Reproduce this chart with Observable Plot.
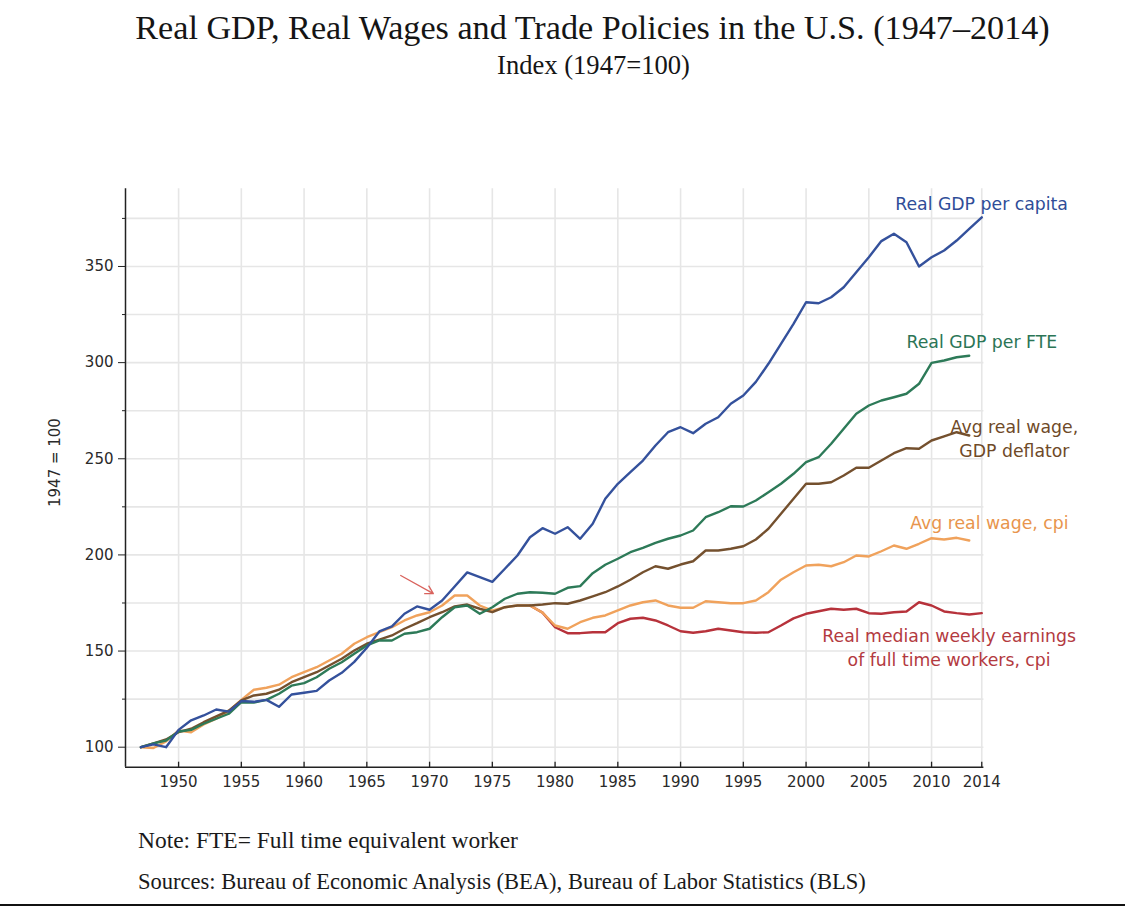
<!DOCTYPE html>
<html>
<head>
<meta charset="utf-8">
<script src="https://cdn.jsdelivr.net/npm/d3@7"></script>
<script src="https://cdn.jsdelivr.net/npm/@observablehq/plot@0.6"></script>
<style>
  html, body { margin: 0; padding: 0; background: #fff; }
  #page { position: relative; width: 1125px; height: 907px; overflow: hidden; background: #fff; }
  #chart { position: absolute; left: 0; top: 150px; }
  #deco { position: absolute; left: 0; top: 0; pointer-events: none; }
</style>
</head>
<body>
<div id="page">
  <div id="chart"></div>
  <svg id="deco" width="1125" height="907">
    <text id="title" x="592.5" y="39.3" text-anchor="middle" font-family="Liberation Serif" fill="#151515">Real GDP, Real Wages and Trade Policies in the U.S. (1947–2014)</text>
    <text id="subtitle" x="593.5" y="74" text-anchor="middle" font-family="Liberation Serif" fill="#151515">Index (1947=100)</text>
    <text id="note" x="138" y="848" font-family="Liberation Serif" fill="#1a1a1a">Note: FTE= Full time equivalent worker</text>
    <text id="sources" x="138" y="889" font-family="Liberation Serif" fill="#1a1a1a">Sources:  Bureau of Economic Analysis (BEA), Bureau of Labor Statistics (BLS)</text>
    <line x1="0" x2="1125" y1="905" y2="905" stroke="#111" stroke-width="2"></line>
  </svg>
</div>
<script>
// ---------- data ----------
const yearsMain = d3.range(1947, 2015);           // 1947..2014
const yearsWage = d3.range(1947, 2014);           // 1947..2013
const yearsMedian = d3.range(1978, 2015);         // 1978..2014

const gdpPerCapita = [100, 101.5, 100, 109, 114, 116.5, 119.6, 118.5, 124, 123.6,
  124.6, 121, 127.4, 128.3, 129.3, 134.7, 138.7, 144.4, 151.7, 160.2,
  162.8, 169.4, 173.2, 171.5, 176.3, 183.6, 190.9, 188.4, 186, 192.8,
  199.7, 209.2, 213.9, 211, 214.4, 208.4, 216.2, 229.2, 237, 243,
  249.1, 256.9, 263.8, 266.4, 263.3, 268.2, 271.6, 278.6, 282.9, 290,
  299.4, 309.8, 320.2, 331.4, 330.9, 334, 339.2, 347, 354.8, 363.2,
  367, 362.6, 350, 354.8, 358.3, 363.5, 369.6, 375.6];

const gdpPerFTE = [100, 102, 103.5, 108.2, 109, 112.2, 114.8, 117.4, 123.4, 123.2,
  124.6, 127.8, 132, 133.3, 136.4, 140.8, 144.2, 148.6, 152.9, 155.5,
  155.5, 159, 159.8, 161.6, 167.6, 172.8, 173.7, 169.4, 172.8, 177.2,
  179.8, 180.6, 180.3, 179.8, 182.9, 183.8, 190.5, 194.9, 198, 201.4,
  203.7, 206.3, 208.4, 210.1, 212.7, 219.6, 222.2, 225.3, 225.2, 228.3,
  232.6, 237, 242.2, 248.2, 250.8, 257.8, 265.6, 273.4, 277.7, 280.3,
  282, 283.8, 289, 299.9, 301.1, 302.8, 303.6];

const wageDeflator = [100, 102, 104, 107.8, 109.6, 113, 116, 119, 124.3, 126.9,
  127.8, 129.9, 133.8, 136.4, 139, 142.5, 146, 150.3, 153.8, 155.9,
  158.1, 161.6, 164.5, 167.6, 170.2, 173.2, 174.2, 172, 170.2, 172.8,
  173.7, 173.7, 174.2, 174.9, 174.6, 176.3, 178.4, 180.6, 183.6, 187.1,
  191, 194.1, 192.8, 195, 196.7, 202.3, 202.3, 203.2, 204.5, 208,
  213.6, 221.4, 229.2, 237, 237, 237.8, 241.3, 245.3, 245.3, 249.1,
  252.9, 255.5, 255.2, 259.5, 261.6, 263.8, 262.1];

const wageCpi = [100, 99.6, 103, 108.7, 107.8, 111.8, 114.8, 118.7, 124.6, 129.9,
  130.9, 132.5, 136.4, 139, 141.6, 145.1, 148.6, 153.8, 157.2, 159.8,
  162.4, 165.9, 168.5, 170.2, 173.7, 178.9, 178.9, 173.7, 171, 172.8,
  173.7, 173.7, 170, 163.3, 161.6, 165, 167.3, 168.5, 171.1, 173.7,
  175.4, 176.3, 173.7, 172.5, 172.5, 175.9, 175.4, 174.9, 174.9, 176.3,
  180.6, 187.1, 191, 194.5, 194.9, 194.1, 196.2, 199.7, 199.2, 201.9,
  204.9, 203.2, 205.8, 208.7, 208, 208.9, 207.5];

const medianWeekly = [173.7, 170, 162.4, 159.3, 159.3, 159.8, 159.8, 164.5, 166.8, 167.3,
  165.9, 163.3, 160.3, 159.5, 160.3, 161.6, 160.7, 159.8, 159.5, 159.8,
  163.3, 167, 169.4, 170.7, 172, 171.5, 172, 169.7, 169.4, 170.2,
  170.6, 175.4, 173.7, 170.6, 169.7, 169, 169.7];

const seriesNames = ["Real GDP per capita", "Real GDP per FTE", "Avg real wage,\nGDP deflator",
  "Avg real wage, cpi", "Real median weekly earnings\nof full time workers, cpi"];
const seriesColors = ["#34519c", "#2d7a58", "#74502e", "#f0a25c", "#b7323b"];
const labelColors = ["#2f4d98", "#2b7556", "#6f4a28", "#e8954d", "#b33a3f"];

const xTicks = [1950, 1955, 1960, 1965, 1970, 1975, 1980, 1985, 1990, 1995, 2000, 2005, 2010, 2014];
const yMajor = [100, 150, 200, 250, 300, 350];
const yMinor = [125, 175, 225, 275, 325, 375];
const yGrid = [100, 125, 150, 175, 200, 225, 250, 275, 300, 325, 350, 375];
const yTitle = ["1947 = 100"];

// annotation anchors (in data units)
const labelAnchors = [
  {x: 2007.1, y: 383.5, anchor: "start"},
  {x: 2008.0, y: 311.6, anchor: "start"},
  {x: 2016.6, y: 261.0, anchor: "middle"},
  {x: 2008.3, y: 217.5, anchor: "start"},
  {x: 2011.4, y: 152.3, anchor: "middle"}
];
const arrowData = [{x1: 1967.7, y1: 189.3, x2: 1970.3, y2: 179.9}];

// ---------- build tables ----------
const toRows = (years, vals) => years.map((yr, i) => ({year: yr, value: vals[i]}));
const allSeries = [
  toRows(yearsMain, gdpPerCapita),
  toRows(yearsWage, gdpPerFTE),
  toRows(yearsWage, wageDeflator),
  toRows(yearsWage, wageCpi),
  toRows(yearsMedian, medianWeekly)
];

const W = 1125, H = 660, mT = 38.3, mB = 43.3, mL = 125, mR = 141.6;
const frameH = H - mT - mB;
const xDom = [1945.77, 2014.17], yDom = [89.6, 390.4];
const axisColor = "#222";

const lineOrder = [4, 3, 2, 1, 0];
const marks = [
  Plot.gridX(xTicks, {stroke: "#e6e6e6", strokeOpacity: 1, strokeWidth: 1.6}),
  Plot.gridY(yGrid, {stroke: "#e6e6e6", strokeOpacity: 1, strokeWidth: 1.6}),
  Plot.axisY(yMajor, {tickSize: 7, tickPadding: 5, fontSize: 15, fill: "#2a2a2a", stroke: axisColor, label: null}),
  Plot.axisY(yMinor, {tickSize: 3, tickFormat: () => "", stroke: axisColor, label: null}),
  Plot.axisX(xTicks, {tickSize: 0, tickPadding: 9, fontSize: 15, fill: "#2a2a2a", tickFormat: d => String(d), label: null}),
  Plot.tickX(xTicks, {x: d => d, insetTop: frameH - 5, insetBottom: -1, stroke: axisColor, strokeWidth: 1.3}),
  Plot.ruleX([xDom[0]], {stroke: axisColor, strokeWidth: 1.5}),
  Plot.ruleY([yDom[0]], {stroke: axisColor, strokeWidth: 1.5}),
  Plot.text(yTitle, {text: d => d, frameAnchor: "left", rotate: -90, dx: -70, dy: 29, fontSize: 15, fill: "#2a2a2a"}),
  ...lineOrder.map(i => Plot.line(allSeries[i], {x: "year", y: "value", stroke: seriesColors[i], strokeWidth: 2.4, strokeLinejoin: "round"})),
  ...labelAnchors.map((a, i) => Plot.text([seriesNames[i]], {
    x: () => a.x, y: () => a.y, text: d => d, textAnchor: a.anchor,
    fill: labelColors[i], fontSize: 17.3, lineHeight: 1.4
  })),
  Plot.arrow(arrowData, {x1: "x1", y1: "y1", x2: "x2", y2: "y2", stroke: "#d9625c", strokeWidth: 1.3, headLength: 10, bend: 0})
];

const chart = Plot.plot({
  width: W, height: H,
  marginTop: mT, marginBottom: mB, marginLeft: mL, marginRight: mR,
  x: {domain: xDom},
  y: {domain: yDom},
  style: {fontFamily: "DejaVu Sans", fontSize: "15px", color: "#2a2a2a", background: "transparent", overflow: "visible"},
  marks
});
document.getElementById("chart").appendChild(chart);

// ---------- fit serif texts to reference widths ----------
function fit(id, target) {
  const el = document.getElementById(id);
  el.setAttribute("font-size", 20);
  const len = el.getComputedTextLength();
  el.setAttribute("font-size", (20 * target / len).toFixed(2));
}
fit("title", 915);
fit("subtitle", 193);
fit("note", 380);
fit("sources", 728);
</script>
</body>
</html>
